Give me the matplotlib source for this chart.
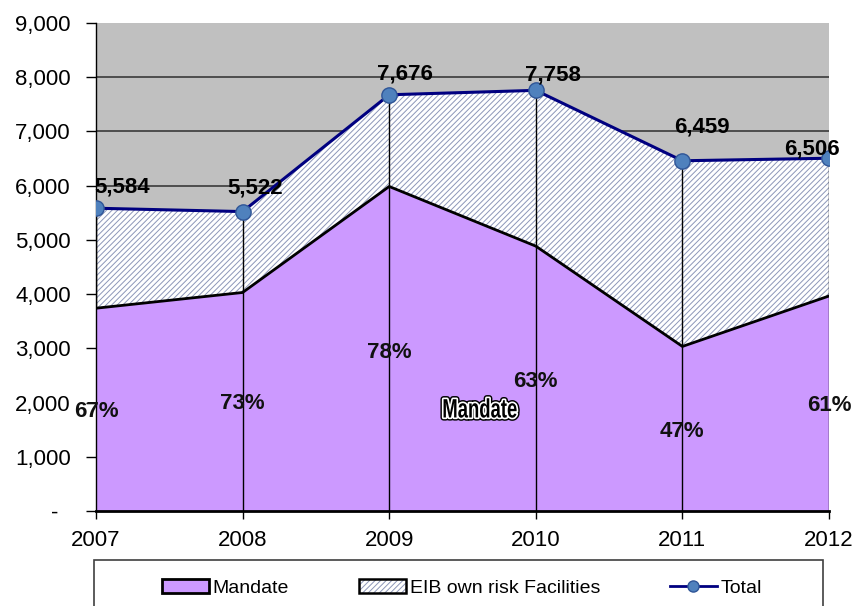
import matplotlib
matplotlib.use("Agg")
import matplotlib.pyplot as plt
import matplotlib.patheffects as pe
from matplotlib.patches import Patch, Rectangle, PathPatch
from matplotlib.lines import Line2D
from matplotlib.ticker import FuncFormatter
from matplotlib.textpath import TextPath
from matplotlib.font_manager import FontProperties
from matplotlib.transforms import Affine2D, ScaledTranslation
from matplotlib.legend_handler import HandlerTuple

plt.rcParams["font.family"] = ["Liberation Sans", "DejaVu Sans"]
plt.rcParams["hatch.linewidth"] = 0.7

# data
years = [2007, 2008, 2009, 2010, 2011, 2012]
total = [5584, 5522, 7676, 7758, 6459, 6506]
mandate = [3740, 4030, 5985, 4885, 3035, 3965]
mandate_pct = ["67%", "73%", "78%", "63%", "47%", "61%"]
yticks = [0, 1000, 2000, 3000, 4000, 5000, 6000, 7000, 8000, 9000]

# label placement (layout only)
pct_label_y = [1830, 1990, 2930, 2380, 1460, 1940]
total_label_offset = [(19, 15), (9, 17), (11, 15), (12, 11), (14, 24), (-12, 7)]

PURPLE = "#CC99FF"
NAVY = "#000080"
MARKER = "#4F81BD"
HATCH = "#8C96B8"

fig = plt.figure(figsize=(8.57, 6.06), dpi=100)
ax = fig.add_axes([96 / 857, 1 - 511 / 606, (829 - 96) / 857, (511 - 23) / 606])
ax.set_facecolor("#C0C0C0")
ax.set_xlim(years[0], years[-1])
ax.set_ylim(0, 9000)

# gridlines behind the areas
for v in yticks[1:-1]:
    ax.axhline(v, color="#3A3A3A", lw=1.2, zorder=1)

# EIB own risk facilities (hatched) = total stack, mandate on top of it
ax.fill_between(years, 0, total, facecolor="white", edgecolor=HATCH,
                hatch="//////", linewidth=0, zorder=2)
ax.fill_between(years, 0, mandate, facecolor=PURPLE, edgecolor="none", zorder=3)
ax.plot(years, mandate, color="black", lw=2, zorder=4)

# drop lines
ax.vlines(years, 0, total, color="black", lw=1, zorder=5)

ax.plot(years, total, color=NAVY, lw=2.2, marker="o", markersize=11,
        markerfacecolor=MARKER, markeredgecolor="#2F5597", markeredgewidth=1,
        zorder=6)

for x, t, off in zip(years, total, total_label_offset):
    ax.annotate(f"{t:,}", (x, t), xytext=off, textcoords="offset points",
                ha="center", va="center", fontsize=16, fontweight="bold",
                zorder=7, annotation_clip=False)

for x, p, y in zip(years, mandate_pct, pct_label_y):
    ax.text(x, y, p, ha="center", va="center", fontsize=16,
            fontweight="bold", color="#111111", zorder=7, clip_on=False)

# condensed outlined "Mandate" word inside the purple area
tp = TextPath((0, 0), "Mandate", size=28,
              prop=FontProperties(family="Liberation Sans", weight="bold"))
bb = tp.get_extents()
word_tf = (Affine2D().translate(-(bb.x0 + bb.x1) / 2, -(bb.y0 + bb.y1) / 2)
           .scale(0.66, 0.95)
           + ScaledTranslation(2009.62, 1900, ax.transData))
ax.add_patch(PathPatch(tp, transform=word_tf, facecolor="black", lw=0, zorder=7,
                       path_effects=[pe.Stroke(linewidth=4.5, foreground="black",
                                               joinstyle="round"),
                                     pe.Stroke(linewidth=2.4, foreground="white",
                                               joinstyle="round"),
                                     pe.Normal()]))

ax.set_xticks(years)
ax.set_yticks(yticks)
ax.yaxis.set_major_formatter(FuncFormatter(lambda v, _: "-  " if v == 0 else f"{int(v):,}"))
ax.tick_params(axis="y", length=7, width=1, pad=11, labelsize=16)
ax.tick_params(axis="x", length=6, width=1, pad=8, labelsize=16)

for s in ["top", "right"]:
    ax.spines[s].set_visible(False)
ax.spines["left"].set_linewidth(1)
ax.spines["bottom"].set_linewidth(2)
ax.spines["bottom"].set_zorder(8)

# legend box runs off the bottom of the picture
fig.patches.append(Rectangle((94 / 857, -0.1), (823 - 94) / 857, 0.1 + 1 - 560 / 606,
                             transform=fig.transFigure, facecolor="white",
                             edgecolor="#404040", lw=1.2))

handles = [
    Patch(facecolor=PURPLE, edgecolor="black", lw=2),
    (Patch(facecolor="white", edgecolor=HATCH, hatch="//////", lw=0),
     Patch(facecolor="none", edgecolor="black", lw=1.8)),
    Line2D([], [], color=NAVY, lw=2, marker="o", markersize=8,
           markerfacecolor=MARKER, markeredgecolor="#2F5597"),
]
labels = ["Mandate", "EIB own risk Facilities", "Total"]
fig.legend(handles, labels, loc="center", bbox_to_anchor=(462 / 857, 1 - 588 / 606),
           ncol=3, frameon=False, fontsize=14, handlelength=2.4,
           columnspacing=3.6, handletextpad=0.2,
           handler_map={tuple: HandlerTuple(ndivide=1, pad=0)})

fig.savefig("out.png", dpi=100)
